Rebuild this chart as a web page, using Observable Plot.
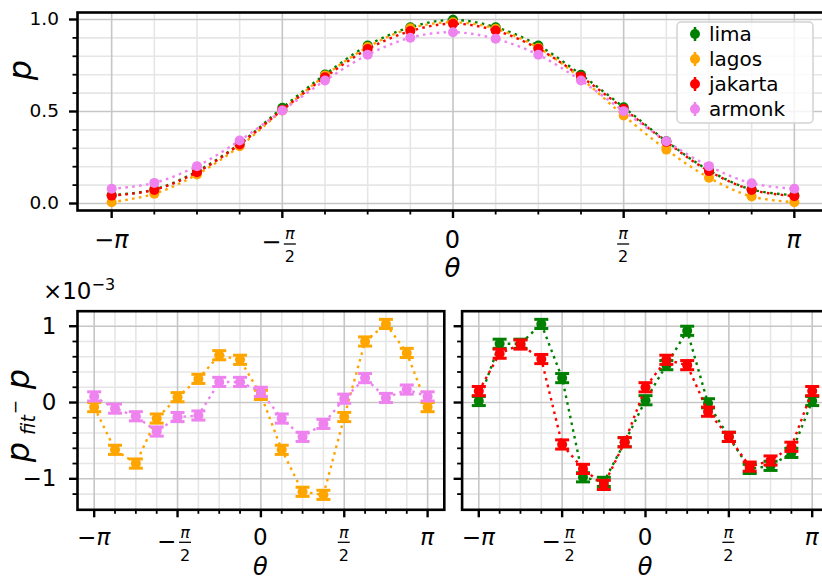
<!DOCTYPE html>
<html><head><meta charset="utf-8">
<script src="https://cdn.jsdelivr.net/npm/d3@7"></script>
<script src="https://cdn.jsdelivr.net/npm/@observablehq/plot@0.6"></script>
<style>
body{margin:0;background:#fff;}
#root{position:relative;width:822px;height:581px;overflow:hidden;background:#fff;font-family:"DejaVu Sans";}
.panel{position:absolute;}
.panel svg{max-width:none !important;}
</style></head><body>
<div id="root">
  <div id="top" class="panel" style="left:0;top:0;width:830px;height:290px"></div>
  <div id="bl" class="panel" style="left:0;top:280px;width:450px;height:301px"></div>
  <div id="br" class="panel" style="left:440px;top:280px;width:390px;height:301px"></div>
  <div id="legend" class="panel" style="left:676px;top:21px"></div>
</div>
<script>
// ---- data ----
const steps = [-8,-7,-6,-5,-4,-3,-2,-1,0,1,2,3,4,5,6,7,8]; // theta = step * pi/8
const series = ["lima", "lagos", "jakarta", "armonk"];
const colors = ["#008000", "#FFA500", "#FF0000", "#EE82EE"];

const pLima    = [0.045, 0.076, 0.175, 0.325, 0.520, 0.701, 0.859, 0.958, 0.998, 0.958, 0.859, 0.700, 0.523, 0.339, 0.180, 0.076, 0.045];
const pLagos   = [0.007, 0.053, 0.158, 0.311, 0.506, 0.695, 0.850, 0.952, 0.985, 0.950, 0.846, 0.680, 0.478, 0.293, 0.140, 0.038, 0.007];
const pJakarta = [0.043, 0.074, 0.170, 0.321, 0.509, 0.686, 0.839, 0.937, 0.977, 0.940, 0.841, 0.690, 0.515, 0.335, 0.176, 0.074, 0.040];
const pArmonk  = [0.080, 0.112, 0.203, 0.342, 0.505, 0.668, 0.808, 0.901, 0.931, 0.895, 0.808, 0.668, 0.502, 0.339, 0.203, 0.110, 0.080];

// residuals p_fit - p, in units of 1e-3
const rLagos   = [-0.06, -0.62, -0.80, -0.21, 0.07, 0.31, 0.62, 0.56, 0.10, -0.62, -1.17, -1.21, -0.19, 0.80, 1.03, 0.65, -0.06];
const rArmonk  = [0.08, -0.08, -0.18, -0.38, -0.19, -0.17, 0.27, 0.27, 0.14, -0.21, -0.45, -0.28, 0.05, 0.32, 0.06, 0.17, 0.08];
const rLima    = [0.02, 0.77, 0.77, 1.03, 0.32, -0.98, -1.04, -0.52, 0.03, 0.49, 0.94, -0.01, -0.45, -0.87, -0.83, -0.66, 0.02];
const rJakarta = [0.15, 0.64, 0.76, 0.57, -0.55, -0.87, -1.08, -0.52, 0.20, 0.56, 0.49, -0.12, -0.45, -0.84, -0.76, -0.58, 0.15];
const rErr = 0.06;

const xTickValues = [-Math.PI, -Math.PI/2, 0, Math.PI/2, Math.PI];
const xTickLabels = ["−π", "−π/2", "0", "π/2", "π"];
const xMinorSteps = [-7,-6,-5,-3,-2,-1,1,2,3,5,6,7];
const pMajor = [0, 0.5, 1.0];
const pMinor = [0.1, 0.2, 0.3, 0.4, 0.6, 0.7, 0.8, 0.9];
const rMajor = [-1, 0, 1];
const rMinor = [-1.2, -0.8, -0.6, -0.4, -0.2, 0.2, 0.4, 0.6, 0.8];

// ---- derived tables ----
const theta = steps.map(k => k * Math.PI / 8);
const xMinor = xMinorSteps.map(k => k * Math.PI / 8);
const pArrays = [pLima, pLagos, pJakarta, pArmonk];
const topData = series.map((s, i) => theta.map((t, j) => ({theta: t, p: pArrays[i][j], series: s})));
const resTable = (arr) => theta.map((t, j) => ({theta: t, v: arr[j], lo: arr[j] - rErr, hi: arr[j] + rErr}));

const xDomain = [-3.456, 3.456];
const majorGrid = "#c6c6c6", minorGrid = "#e6e6e6";
const dots = "2.6,4.3";
const capSymbol = {draw(ctx) { ctx.moveTo(-7, 0); ctx.lineTo(7, 0); }};
const mathFont = "DejaVu Sans";
const svgStyle = (fs) => ({fontFamily: "DejaVu Sans", fontSize: fs, background: "transparent", overflow: "visible", maxWidth: "none"});

function gridMarks(yMaj, yMin) {
  return [
    Plot.gridX(xMinor, {stroke: minorGrid, strokeOpacity: 1, strokeWidth: 1.6}),
    Plot.gridY(yMin, {stroke: minorGrid, strokeOpacity: 1, strokeWidth: 1.6}),
    Plot.gridX(xTickValues, {stroke: majorGrid, strokeOpacity: 1, strokeWidth: 1.6}),
    Plot.gridY(yMaj, {stroke: majorGrid, strokeOpacity: 1, strokeWidth: 1.6})
  ];
}
function tickMarks(yMaj, yMin, yFmt, yFont, yPad) {
  return [
    Plot.axisX(xTickValues, {tickSize: 8, strokeWidth: 2.4, tickFormat: () => "", label: null}),
    Plot.axisX(xMinor, {tickSize: 4.5, strokeWidth: 1.8, tickFormat: () => "", label: null}),
    Plot.axisY(yMaj, {tickSize: 8, strokeWidth: 2.4, tickPadding: yPad, tickFormat: yFmt, fontSize: yFont, label: null}),
    Plot.axisY(yMin, {tickSize: 4.5, strokeWidth: 1.8, tickFormat: () => "", label: null})
  ];
}

// custom mark: pi-fraction tick labels, axis titles
function labelsMark(opt) {
  return (index, scales, values, dims) => {
    const {width, height, marginLeft, marginRight, marginBottom} = dims;
    const y0 = height - marginBottom;
    const g = d3.create("svg:g").attr("font-family", mathFont).attr("fill", "black");
    xTickValues.forEach((v, i) => {
      const cx = scales.x(v);
      const lab = xTickLabels[i];
      if (lab.includes("/")) {
        const neg = lab.startsWith("−");
        const fx = neg ? cx + 8 : cx;
        if (neg) g.append("text").attr("x", cx - 10.5).attr("y", y0 + opt.minusBase)
          .attr("text-anchor", "middle").attr("font-size", opt.fs).text("−");
        g.append("text").attr("x", fx).attr("y", y0 + 29).attr("text-anchor", "middle")
          .attr("font-size", 16).attr("font-style", "italic").text("π");
        g.append("line").attr("x1", fx - 6).attr("x2", fx + 6).attr("y1", y0 + opt.bar).attr("y2", y0 + opt.bar)
          .attr("stroke", "black").attr("stroke-width", 1.3);
        g.append("text").attr("x", fx).attr("y", y0 + 52).attr("text-anchor", "middle")
          .attr("font-size", 16).text("2");
      } else {
        const t = g.append("text").attr("x", cx).attr("y", y0 + opt.intBase)
          .attr("text-anchor", "middle").attr("font-size", opt.fs);
        if (lab === "0") t.text("0");
        else {
          if (lab.startsWith("−")) t.append("tspan").text("−");
          t.append("tspan").attr("font-style", "italic").text("π");
        }
      }
    });
    const mid = (marginLeft + width - marginRight) / 2;
    g.append("text").attr("x", mid).attr("y", y0 + opt.thetaBase).attr("text-anchor", "middle")
      .attr("font-size", opt.thetaFs).attr("font-style", "italic").text("θ");
    if (opt.ylabel === "p") {
      g.append("text").attr("transform", "translate(31.3,70) rotate(-90)").attr("text-anchor", "middle")
        .attr("font-size", 32).attr("font-style", "italic").text("p");
    } else if (opt.ylabel === "res") {
      const lg = g.append("g").attr("transform", "translate(28.8,172) rotate(-90)").attr("font-style", "italic");
      lg.append("text").attr("x", 0).attr("y", 0).attr("font-size", 32).text("p");
      lg.append("text").attr("x", 27).attr("y", 6).attr("font-size", 19).text("fit");
      lg.append("text").attr("x", 45).attr("y", -8).attr("font-size", 17).attr("font-style", "normal").text("−");
      lg.append("text").attr("x", 73).attr("y", 0).attr("font-size", 32).text("p");
    }
    if (opt.sci) {
      const st = g.append("text").attr("x", 79).attr("y", 19.3).attr("font-size", 23);
      st.append("tspan").text("×10");
      st.append("tspan").attr("font-size", 16).attr("dy", -9).text("−3");
    }
    return g.node();
  };
}

// ---- top panel ----
const topMarks = [...gridMarks(pMajor, pMinor)];
topData.forEach((d, i) => {
  topMarks.push(Plot.dot(d, {x: "theta", y: "p", fill: colors[i], r: 5}));
  topMarks.push(Plot.line(d, {x: "theta", y: "p", stroke: colors[i], strokeWidth: 2.4, strokeDasharray: dots, strokeLinecap: "butt", curve: "catmull-rom"}));
});
topMarks.push(...tickMarks(pMajor, pMinor, d3.format(".1f"), 18.5, 10.5));
topMarks.push(Plot.frame({stroke: "black", strokeWidth: 2.6}));
topMarks.push(labelsMark({fs: 24, intBase: 38, minusBase: 40, bar: 34, thetaBase: 67, thetaFs: 26, ylabel: "p"}));

const topPlot = Plot.plot({
  width: 830, height: 290, marginLeft: 77, marginRight: 2, marginTop: 12, marginBottom: 80,
  x: {domain: xDomain}, y: {domain: [-0.038, 1.038]},
  style: svgStyle("18px"),
  marks: topMarks
});
document.getElementById("top").appendChild(topPlot);

// ---- bottom panels ----
const rFmt = d => d < 0 ? "−" + Math.abs(d) : String(d);
function resMarks(list) {
  const m = [];
  list.forEach(([arr, c]) => {
    const t = resTable(arr);
    m.push(Plot.line(t, {x: "theta", y: "v", stroke: c, strokeWidth: 2.4, strokeDasharray: dots, strokeLinecap: "butt"}));
    m.push(Plot.ruleX(t, {x: "theta", y1: "lo", y2: "hi", stroke: c, strokeWidth: 2.5}));
    m.push(Plot.dot(t, {x: "theta", y: "v", fill: c, r: 5}));
    m.push(Plot.dot(t, {x: "theta", y: "hi", symbol: capSymbol, stroke: c, fill: "none", strokeWidth: 3}));
    m.push(Plot.dot(t, {x: "theta", y: "lo", symbol: capSymbol, stroke: c, fill: "none", strokeWidth: 3}));
  });
  return m;
}
const rDomain = [-1.406, 1.197];

const blPlot = Plot.plot({
  width: 450, height: 301, marginLeft: 77, marginRight: 6.2, marginTop: 30.7, marginBottom: 71.7,
  x: {domain: xDomain}, y: {domain: rDomain},
  style: svgStyle("23px"),
  marks: [
    ...gridMarks(rMajor, rMinor),
    ...resMarks([[rLagos, colors[1]], [rArmonk, colors[3]]]),
    ...tickMarks(rMajor, rMinor, rFmt, 23, 13),
    Plot.frame({stroke: "black", strokeWidth: 2.6}),
    labelsMark({fs: 23, intBase: 36, minusBase: 40, bar: 33, thetaBase: 66, thetaFs: 24, ylabel: "res", sci: true})
  ]
});
document.getElementById("bl").appendChild(blPlot);

const brPlot = Plot.plot({
  width: 390, height: 301, marginLeft: 21.6, marginRight: 1.6, marginTop: 30.7, marginBottom: 71.7,
  x: {domain: xDomain}, y: {domain: rDomain},
  style: svgStyle("23px"),
  marks: [
    ...gridMarks(rMajor, rMinor),
    ...resMarks([[rLima, colors[0]], [rJakarta, colors[2]]]),
    ...tickMarks(rMajor, rMinor, () => "", 23, 13),
    Plot.frame({stroke: "black", strokeWidth: 2.6}),
    labelsMark({fs: 23, intBase: 36, minusBase: 40, bar: 33, thetaBase: 66, thetaFs: 24})
  ]
});
document.getElementById("br").appendChild(brPlot);

// ---- legend ----
const leg = d3.select("#legend").append("svg").attr("width", 139).attr("height", 104)
  .attr("font-family", "DejaVu Sans");
leg.append("rect").attr("x", 1).attr("y", 1).attr("width", 136).attr("height", 101).attr("rx", 4)
  .attr("fill", "rgba(255,255,255,0.8)").attr("stroke", "#d2d2d2").attr("stroke-width", 1.5);
series.forEach((s, i) => {
  const cy = 13 + i * 25;
  const c = colors[i];
  leg.append("line").attr("x1", 19).attr("x2", 19).attr("y1", cy - 7).attr("y2", cy + 7).attr("stroke", c).attr("stroke-width", 2.5);
  leg.append("circle").attr("cx", 19).attr("cy", cy).attr("r", 5).attr("fill", c);
  leg.append("text").attr("x", 33).attr("y", cy + 7).attr("font-size", 20).text(s);
});
</script>
</body></html>
